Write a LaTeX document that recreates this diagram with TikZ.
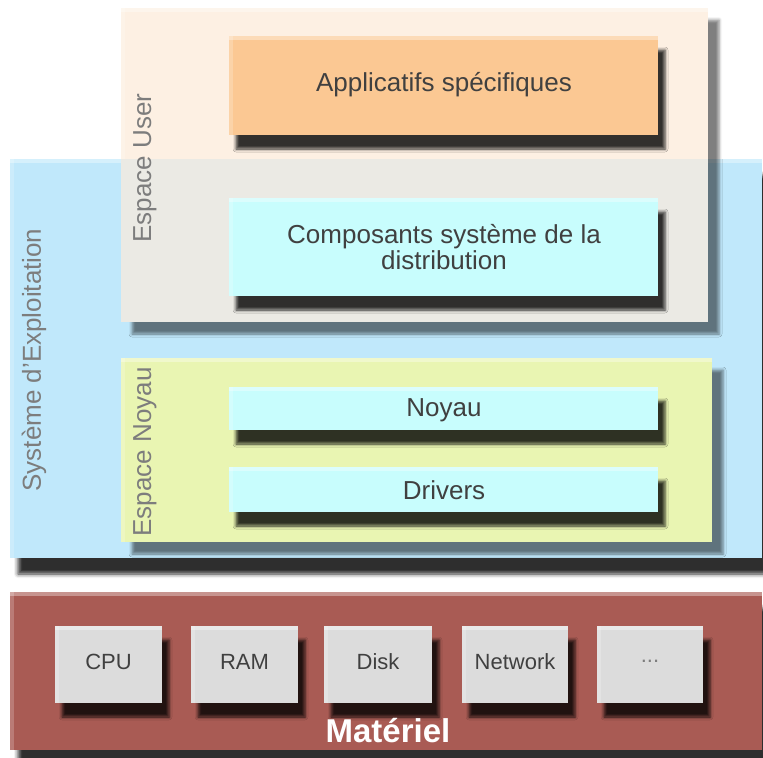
\documentclass[tikz,border=0pt]{standalone}
\usepackage{fontspec}
\setmainfont{Liberation Sans}
\usetikzlibrary{fit,shadows.blur}

\definecolor{peachcol}{HTML}{FDF0E3}
\definecolor{overlapcol}{HTML}{EBEAE4}
\definecolor{oscol}{HTML}{C0E8FB}
\definecolor{kernelcol}{HTML}{E9F5B2}
\definecolor{appcol}{HTML}{FBC893}
\definecolor{cyancol}{HTML}{C8FDFD}
\definecolor{hwcol}{HTML}{A95B54}
\definecolor{devcol}{HTML}{DCDCDC}
\definecolor{textcol}{HTML}{404040}
\definecolor{labelcol}{HTML}{7D7D7D}

\tikzset{
  panel/.style={inner sep=0pt, draw=none},
  hilite/.style={path picture={
      \fill[white,opacity=0.35] (path picture bounding box.north west)
        rectangle ([yshift=-2pt]path picture bounding box.north east);
      \fill[white,opacity=0.2] (path picture bounding box.north west)
        rectangle ([xshift=2pt]path picture bounding box.south west);}},
  bigshadow/.style={blur shadow={shadow xshift=5.5pt, shadow yshift=-6pt,
      shadow blur radius=1.5pt, shadow opacity=50}},
  osshadow/.style={blur shadow={shadow xshift=4pt, shadow yshift=-8pt,
      shadow blur radius=2pt, shadow opacity=82}},
  boxshadow/.style={blur shadow={shadow xshift=3.5pt, shadow yshift=-7pt,
      shadow blur radius=1.5pt, shadow opacity=80}},
  layerbox/.style={panel, hilite, boxshadow},
  devbox/.style={panel, hilite, boxshadow, fill=devcol},
  boxtext/.style={inner sep=0pt, anchor=center, text=textcol, align=center,
      font=\fontsize{13}{12}\selectfont},
  devtext/.style={inner sep=0pt, anchor=center, text=textcol,
      font=\fontsize{11}{13}\selectfont},
  sidelabel/.style={rotate=90, text=labelcol, inner sep=0pt,
      font=\fontsize{13}{15}\selectfont},
}

\begin{document}
\begin{tikzpicture}[x=0.5pt,y=-0.5pt]
\useasboundingbox (0,0) rectangle (763,757);

% operating system backdrop
\node[panel, hilite, osshadow, fill=oscol, fit={(10,159) (762,558)}] (os) {};

% user space and its overlap with the OS band
\node[panel, hilite, bigshadow, fill=peachcol, fit={(121,8) (708,322)}] (user) {};
\fill[overlapcol] (121,159) rectangle (708,322);

% kernel space
\node[panel, hilite, bigshadow, fill=kernelcol, fit={(121,358) (712,542)}] (kernel) {};

% layers
\node[layerbox, fill=appcol, fit={(229,36) (658,135)}] (apps) {};
\node[layerbox, fill=cyancol, fit={(229,198) (658,296)}] (comp) {};
\node[layerbox, fill=cyancol, fit={(229,387) (658,430)}] (noyau) {};
\node[layerbox, fill=cyancol, fit={(229,467) (658,512)}] (drivers) {};
\node[boxtext] (appstxt) at (444,85) {Applicatifs spécifiques};
\node[boxtext] (comptxt) at (444,247) {Composants système de la\\distribution};
\node[boxtext] (noyautxt) at (444,410) {Noyau};
\node[boxtext] (drvtxt) at (444,490) {Drivers};

% side labels
\node[sidelabel] (userlbl) at (145,168) {Espace User};
\node[sidelabel] (kernlbl) at (145,452) {Espace Noyau};
\node[sidelabel] (oslbl) at (34,360) {Système d’Exploitation};

% hardware
\node[panel, hilite, osshadow, fill=hwcol, fit={(10,592) (762,750)}] (hw) {};
\node[devbox, fit={(55,626) (162,703)}] (cpu) {};
\node[devbox, fit={(191,626) (298,703)}] (ram) {};
\node[devbox, fit={(324,626) (432,703)}] (disk) {};
\node[devbox, fit={(462,626) (568,703)}] (net) {};
\node[devbox, fit={(597,626) (703,703)}] (more) {};
\node[devtext] (cputxt) at (cpu.center) [yshift=1.5pt] {CPU};
\node[devtext] (ramtxt) at (ram.center) [yshift=1.5pt] {RAM};
\node[devtext] (disktxt) at (disk.center) [yshift=1.5pt] {Disk};
\node[devtext] (nettxt) at (net.center) [yshift=1.5pt] {Network};
\node[devtext, text=labelcol] (moretxt) at (more.center) [yshift=1.5pt] {...};
\node[text=white, font=\fontsize{16.5}{18}\selectfont\bfseries, inner sep=0pt] (mat) at (388,731) {Matériel};
\end{tikzpicture}
\end{document}
